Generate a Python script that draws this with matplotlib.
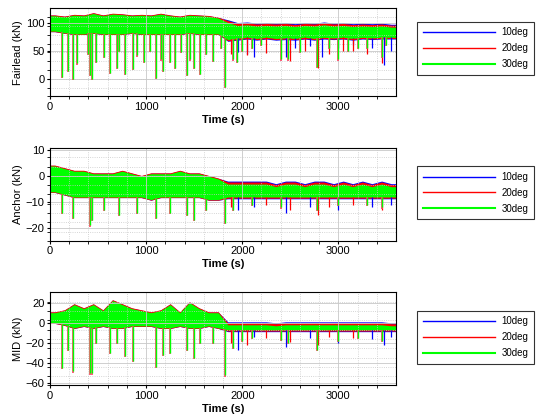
import matplotlib.pyplot as plt
import numpy as np

centres = np.arange(50, 3600, 100)  # centres of 100 s segments

# ---- Fairlead (kN) ----
fl_upper = [112, 110, 113, 112, 116, 112, 115, 114, 112, 113, 112, 115, 112, 110, 113, 112, 111, 108,
            100, 95, 96, 94, 95, 94, 95, 93, 95, 94, 96, 94, 95, 93, 94, 93, 94, 92]
fl_lower = [85, 82, 80, 80, 82, 80, 80, 80, 82, 80, 80, 80, 80, 80, 82, 80, 80, 80,
            70, 72, 74, 72, 74, 72, 73, 72, 74, 72, 74, 73, 74, 72, 74, 73, 74, 74]
fl_spk_t = [120, 190, 240, 280, 400, 420, 440, 480, 560, 620, 700, 720, 780, 860, 900, 980, 1040, 1100,
            1150, 1180, 1250, 1300, 1360, 1420, 1460, 1500, 1560, 1620, 1700, 1780, 1820, 1900, 1950,
            2000, 2100, 2200, 2400, 2480, 2600, 2780, 2900, 3000, 3100, 3200, 3300, 3450, 3500]
fl_spk_v = [5, 15, 0, 28, 45, 8, 0, 30, 40, 12, 20, 50, 10, 18, 42, 30, 50, 2,
            35, 15, 30, 20, 48, 8, 35, 20, 10, 45, 32, 55, -13, 35, 30,
            50, 55, 60, 35, 35, 48, 22, 55, 35, 50, 55, 55, 40, 60]
fl_red_t = [1880, 2050, 2250, 2500, 2650, 2790, 2900, 3050, 3150, 3300, 3450]
fl_red_v = [45, 42, 47, 32, 50, 20, 45, 50, 50, 45, 28]
fl_blue_t = [1960, 2050, 2120, 2450, 2550, 2700, 2830, 3000, 3150, 3350, 3470, 3550]
fl_blue_v = [48, 45, 40, 40, 55, 58, 40, 55, 60, 55, 25, 50]

# ---- Anchor (kN) ----
an_upper = [4, 3, 2, 2, 1, 1, 1, 2, 1, 0, 1, 1, 1, 2, 1, 1, 0, -1,
            -3, -3, -3, -3, -3, -4, -3, -3, -4, -3, -3, -4, -3, -4, -3, -4, -3, -4]
an_lower = [-6, -7, -8, -8, -8, -8, -8, -8, -8, -8, -9, -8, -8, -8, -8, -8, -9, -9,
            -8, -8, -8, -8, -8, -8, -8, -8, -8, -8, -8, -8, -8, -8, -8, -8, -8, -8]
an_spk_t = [120, 240, 420, 440, 560, 720, 900, 1100, 1250, 1420, 1500, 1620, 1820, 1900, 2100,
            2400, 2780, 3000, 3300, 3450]
an_spk_v = [-14, -16, -19, -17, -13, -15, -14, -16, -14, -15, -17, -13, -18, -13, -11,
            -12, -13, -11, -11, -12]
an_red_t = [1880, 2250, 2500, 2790, 2900, 3150, 3450]
an_red_v = [-12, -11, -13, -15, -12, -11, -13]
an_blue_t = [1960, 2120, 2450, 2700, 3000, 3350, 3550]
an_blue_v = [-13, -12, -14, -12, -13, -12, -11]

# ---- MID (kN) ----
md_upper = [10, 12, 18, 14, 18, 12, 22, 18, 14, 12, 10, 12, 18, 10, 20, 14, 10, 10,
            -2, -2, -2, -2, -2, -3, -2, -2, -2, -2, -2, -2, -2, -2, -2, -2, -2, -3]
md_lower = [0, -2, -5, -3, -5, -3, -5, -5, -3, -3, -3, -5, -5, -3, -5, -5, -3, -5,
            -7, -7, -7, -7, -7, -7, -7, -7, -7, -7, -7, -7, -7, -7, -7, -7, -7, -7]
md_spk_t = [120, 190, 240, 420, 440, 480, 620, 700, 780, 860, 1100, 1180, 1250, 1420, 1500,
            1560, 1700, 1820, 1900, 2000, 2100, 2400, 2480, 2780, 3000, 3200, 3450]
md_spk_v = [-45, -27, -48, -50, -50, -20, -30, -20, -33, -38, -44, -32, -30, -27, -35,
            -20, -20, -52, -25, -18, -15, -17, -20, -27, -18, -15, -18]
md_red_t = [1880, 2050, 2250, 2500, 2790, 2900, 3150, 3450]
md_red_v = [-20, -22, -15, -19, -22, -14, -15, -17]
md_blue_t = [1960, 2120, 2450, 2700, 3000, 3350, 3470, 3550]
md_blue_v = [-27, -14, -24, -15, -20, -16, -22, -14]

labels = ['10deg', '20deg', '30deg']
colors = ['#0000ff', '#ff0000', '#00ff00']

plt.rcParams['font.family'] = 'Liberation Sans'
fig = plt.figure(figsize=(5.44, 4.19), dpi=100)

panels = [
    (fl_upper, fl_lower, fl_spk_t, fl_spk_v, fl_red_t, fl_red_v, fl_blue_t, fl_blue_v,
     'Fairlead (kN)', (-30, 125), [0, 50, 100], [0.092, 0.77, 0.636, 0.21], 0.885),
    (an_upper, an_lower, an_spk_t, an_spk_v, an_red_t, an_red_v, an_blue_t, an_blue_v,
     'Anchor (kN)', (-25, 11), [-20, -10, 0, 10], [0.092, 0.425, 0.636, 0.222], 0.54),
    (md_upper, md_lower, md_spk_t, md_spk_v, md_red_t, md_red_v, md_blue_t, md_blue_v,
     'MID (kN)', (-62, 30), [-60, -40, -20, 0, 20], [0.092, 0.08, 0.636, 0.222], 0.195),
]

for up, lo, st, sv, rt, rv, bt, bv, ylab, ylim, yt, pos, legy in panels:
    ax = fig.add_axes(pos)
    u = (ylim[1] - ylim[0]) / 155
    x = np.concatenate([[0], centres, [3600]])
    up_s = np.array([up[0]] + list(up) + [up[-1]], dtype=float)
    lo_s = np.array([lo[0]] + list(lo) + [lo[-1]], dtype=float)
    late = x >= 1850
    # 10deg / 20deg peaks stick out a little above the 30deg band after 1850 s
    ax.fill_between(x, lo_s - np.where(late, 3, 1) * u, up_s + np.where(late, 5, 1) * u,
                    color=colors[0], lw=0)
    ax.fill_between(x, lo_s - np.where(late, 2, 1) * u, up_s + np.where(late, 3.5, 1.5) * u,
                    color=colors[1], lw=0)
    base = lambda ts: np.interp(ts, x, lo_s)
    ax.vlines(bt, base(bt), bv, color=colors[0], lw=0.9)
    ax.vlines(rt, base(rt), rv, color=colors[1], lw=0.9)
    ax.vlines(st, base(st), np.array(sv) - 2 * u, color='#ff4060', lw=1.2)
    ax.fill_between(x, lo_s, up_s, color=colors[2], lw=0)
    ax.vlines(st, base(st), sv, color=colors[2], lw=1.0)
    ax.set_xlim(0, 3600)
    ax.set_ylim(*ylim)
    ax.set_yticks(yt)
    ax.set_xticks([0, 1000, 2000, 3000])
    ax.set_xticks(np.arange(0, 3600, 200), minor=True)
    ax.set_yticks(np.arange(ylim[0], ylim[1], (ylim[1] - ylim[0]) / 10), minor=True)
    ax.grid(which='major', color='#c8c8c8', lw=0.6)
    ax.grid(which='minor', color='#c8c8c8', lw=0.6, linestyle=':')
    ax.tick_params(labelsize=8, length=2, pad=2)
    ax.set_xlabel('Time (s)', fontsize=8, fontweight='bold', labelpad=2)
    ax.set_ylabel(ylab, fontsize=8, labelpad=2)
    for sp in ax.spines.values():
        sp.set_linewidth(0.8)
    handles = [plt.Line2D([], [], color=c, lw=1.0 if i < 2 else 1.5) for i, c in enumerate(colors)]
    leg = fig.legend(handles, labels, loc='center left', bbox_to_anchor=(0.757, legy),
                     fontsize=7, frameon=True, fancybox=False, edgecolor='black',
                     handlelength=7.5, handletextpad=0.6, borderpad=0.6, labelspacing=0.6)
    leg.get_frame().set_linewidth(0.8)

fig.savefig('out.png', dpi=100)
